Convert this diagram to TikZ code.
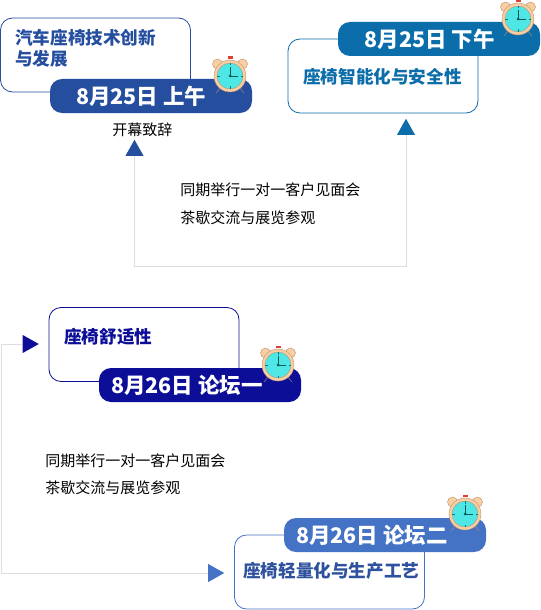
\documentclass[tikz,border=0pt]{standalone}
\usepackage{fontspec}
\setmainfont{Noto Sans CJK SC}
\usetikzlibrary{calc,shapes.geometric}
\definecolor{blueA}{HTML}{254E9F}
\definecolor{blueB}{HTML}{0B6DA9}
\definecolor{blueC}{HTML}{0D0E98}
\definecolor{blueD}{HTML}{4472C4}
\definecolor{inkD}{HTML}{2F529F}
\definecolor{flowgray}{HTML}{DDDDDD}
\definecolor{clockskin}{HTML}{F9CFA2}
\definecolor{clockedge}{HTML}{B98F73}
\definecolor{clockface}{HTML}{4FE6E6}
\tikzset{
  topicbox/.style = {draw = #1, line width = 0.6pt, fill = white, rounded corners = 9pt, minimum width = 142.5pt, minimum height = 55.5pt},
  datepill/.style = {fill = #1, rounded corners = 9pt, minimum width = 151.5pt, minimum height = 25.5pt, inner sep = 0pt},
  datetext/.style = {text = white, anchor = west, inner sep = 0pt, font = \fontsize{16.1}{19}\selectfont\bfseries},
  topictitle/.style = {text = #1, anchor = west, inner sep = 0pt, align = left, font = \fontsize{13.2}{16}\selectfont\bfseries},
  note/.style = {anchor = west, inner sep = 0pt, font = \fontsize{11.25}{14}\selectfont},
  flowtip/.style = {isosceles triangle, isosceles triangle stretches, fill = #1, inner sep = 0pt, minimum height = 12pt, minimum width = 13.5pt},
  flowline/.style = {draw = flowgray, line width = 0.75pt},
  pics/clock/.style = {code = {
    \path[draw = clockedge, line width = 0.3pt](-14,17)to(-9,11);
    \path[draw = clockedge, line width = 0.3pt](14,17)to(9,11);
    \path[draw = clockedge, line width = 0.3pt, fill = clockskin](-12.5,-12)circle(5);
    \path[draw = clockedge, line width = 0.3pt, fill = clockskin](12.5,-12)circle(5);
    \path[fill = red!55!clockedge](-2.5,-19.5)rectangle(2.5,-17);
    \path[draw = clockedge, line width = 0.3pt, fill = clockskin](0,0)circle(16);
    \path[draw = clockedge, line width = 0.3pt, fill = clockface](0,0)circle(13);
    \foreach \a in {0,90,180,270}
      \path[draw = teal, line width = 0.4pt](\a:10.5)to(\a:13);
    \path[draw = teal!70!black, line width = 0.5pt](0,0)to(0,-9);
    \path[draw = teal!70!black, line width = 0.5pt](0,0)to(8,0);
    \path[fill = teal!70!black](0,0)circle(1.5);
  }}
}
\begin{document}
\begin{tikzpicture}[x = 0.75pt, y = -0.75pt]
\path[use as bounding box, fill = white](0,0)rectangle(540,610);
% connectors 8/25
\node[flowtip = blueA, shape border rotate = 90](tipA)at(134.5,150.5){};
\node[flowtip = blueB, shape border rotate = 90](tipB)at(406,129.5){};
\coordinate(cornerA)at(134.5,266);
\coordinate(cornerB)at(406,266);
\path[flowline](tipA.lower side)to(cornerA)to(cornerB)to(tipB.lower side);
% connectors 8/26
\node[flowtip = blueC](tipC)at(28,344){};
\node[flowtip = blueD](tipD)at(213.5,573){};
\coordinate(cornerC)at(1,344);
\coordinate(cornerD)at(1,573);
\path[flowline](tipC.lower side)to(cornerC)to(cornerD)to(tipD.lower side);
% morning
\node[topicbox = blueA](boxA)at(95.5,55){};
\node[topictitle = blueA](titleA)at(15,48.5){汽车座椅技术创新\\与发展};
\node[datepill = blueA](pillA)at(151,96){};
\node[datetext](dateA)at(76,96){8月25日 上午};
\pic at (230,76){clock};
\node[note](openA)at(112,130){开幕致辞};
% afternoon
\node[topicbox = blueB](boxB)at(383,76){};
\node[topictitle = blueB](titleB)at(303,77){座椅智能化与安全性};
\node[datepill = blueB](pillB)at(439,39){};
\node[datetext](dateB)at(364.5,39){8月25日 下午};
\pic at (518,19){clock};
% forum one
\node[topicbox = blueC](boxC)at(144,344.5){};
\node[topictitle = blueC](titleC)at(64,337){座椅舒适性};
\node[datepill = blueC](pillC)at(200,385){};
\node[datetext](dateC)at(111,385){8月26日 论坛一};
\pic at (278,365){clock};
% forum two
\node[topicbox = blueD](boxD)at(329.5,572){};
\node[topictitle = inkD](titleD)at(243,571){座椅轻量化与生产工艺};
\node[datepill = blueD](pillD)at(385,535){};
\node[datetext](dateD)at(296,535){8月26日 论坛二};
\pic at (465,514){clock};
% side notes
\node[note](noteA)at(180,190){同期举行一对一客户见面会};
\node[note](noteB)at(180,218){茶歇交流与展览参观};
\node[note](noteC)at(45,461){同期举行一对一客户见面会};
\node[note](noteD)at(45,488){茶歇交流与展览参观};
\end{tikzpicture}
\end{document}
